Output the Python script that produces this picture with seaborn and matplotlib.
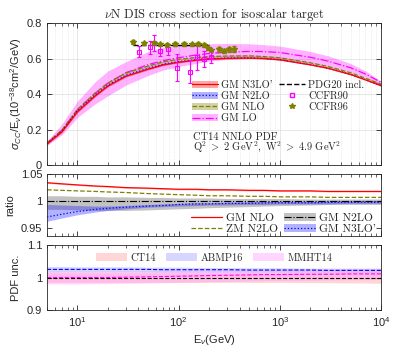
import numpy as np
import pandas as pd
import matplotlib
matplotlib.use('Agg')
import matplotlib.pyplot as plt
import seaborn as sns
from matplotlib.font_manager import FontProperties
from matplotlib.patches import Patch
from matplotlib.lines import Line2D
from matplotlib.ticker import FormatStrFormatter

# ---- data ----
energy = [5, 7, 10, 15, 20, 30, 50, 70, 100, 150, 200, 300, 500, 700, 1000, 2000, 3000, 5000, 7000, 10000]

gm_n3lo = [0.118, 0.186, 0.300, 0.390, 0.445, 0.500, 0.540, 0.564, 0.579, 0.591, 0.597, 0.601, 0.603, 0.600, 0.593, 0.565, 0.545, 0.510, 0.480, 0.447]
gm_n3lo_err = [0.004, 0.005, 0.006, 0.006, 0.006, 0.005, 0.004, 0.004, 0.004, 0.003, 0.003, 0.003, 0.003, 0.003, 0.003, 0.003, 0.003, 0.003, 0.003, 0.003]
gm_n2lo = [0.121, 0.190, 0.305, 0.395, 0.450, 0.505, 0.545, 0.568, 0.583, 0.594, 0.599, 0.603, 0.604, 0.601, 0.594, 0.566, 0.546, 0.511, 0.481, 0.448]
gm_n2lo_err = [0.002, 0.003, 0.004, 0.005, 0.005, 0.005, 0.005, 0.005, 0.004, 0.004, 0.004, 0.004, 0.003, 0.003, 0.003, 0.003, 0.003, 0.002, 0.002, 0.002]
gm_nlo = [0.125, 0.196, 0.314, 0.406, 0.462, 0.518, 0.558, 0.581, 0.596, 0.606, 0.611, 0.614, 0.615, 0.611, 0.604, 0.576, 0.555, 0.520, 0.489, 0.456]
gm_nlo_err = [0.003, 0.004, 0.004, 0.005, 0.005, 0.005, 0.005, 0.005, 0.005, 0.005, 0.005, 0.005, 0.005, 0.005, 0.005, 0.004, 0.004, 0.004, 0.004, 0.004]
gm_lo = [0.122, 0.195, 0.312, 0.405, 0.462, 0.520, 0.566, 0.588, 0.605, 0.620, 0.628, 0.636, 0.640, 0.639, 0.634, 0.607, 0.585, 0.548, 0.513, 0.466]
gm_lo_low = [0.110, 0.170, 0.268, 0.345, 0.390, 0.450, 0.505, 0.535, 0.555, 0.573, 0.585, 0.595, 0.600, 0.600, 0.597, 0.575, 0.557, 0.525, 0.495, 0.440]
gm_lo_high = [0.135, 0.230, 0.360, 0.470, 0.530, 0.582, 0.640, 0.662, 0.675, 0.681, 0.683, 0.685, 0.683, 0.678, 0.670, 0.640, 0.615, 0.572, 0.530, 0.472]

pdg_energy = [35, 200]
pdg_value = [0.677, 0.677]

ccfr90_energy = [40.5, 51.6, 57, 65.5, 79, 97, 128, 153, 178, 207]
ccfr90_value = [0.638, 0.663, 0.685, 0.642, 0.651, 0.548, 0.525, 0.606, 0.600, 0.610]
ccfr90_err = [0.030, 0.035, 0.045, 0.030, 0.030, 0.077, 0.065, 0.070, 0.045, 0.035]

ccfr96_energy = [35, 45, 57, 65, 77, 93, 113, 136, 156, 178, 195, 210, 250, 281, 315, 353]
ccfr96_value = [0.694, 0.685, 0.685, 0.681, 0.676, 0.680, 0.681, 0.680, 0.680, 0.676, 0.657, 0.648, 0.651, 0.643, 0.651, 0.653]
ccfr96_err = [0.012, 0.008, 0.010, 0.008, 0.012, 0.012, 0.010, 0.008, 0.012, 0.010, 0.010, 0.008, 0.012, 0.012, 0.015, 0.015]

# ratio panel (to GM N2LO)
ratio_gm_nlo = [1.033, 1.031, 1.029, 1.027, 1.026, 1.024, 1.023, 1.022, 1.021, 1.021, 1.020, 1.020, 1.019, 1.019, 1.018, 1.018, 1.017, 1.017, 1.017, 1.017]
ratio_zm_n2lo = [1.020, 1.019, 1.018, 1.017, 1.016, 1.015, 1.013, 1.012, 1.011, 1.010, 1.009, 1.009, 1.008, 1.008, 1.007, 1.007, 1.006, 1.006, 1.006, 1.006]
ratio_gm_n2lo = [1.0] * 20
ratio_gm_n2lo_low = [0.984, 0.984, 0.983, 0.982, 0.982, 0.982, 0.983, 0.984, 0.985, 0.986, 0.987, 0.988, 0.989, 0.990, 0.991, 0.992, 0.993, 0.993, 0.993, 0.993]
ratio_gm_n2lo_high = [1.009, 1.009, 1.008, 1.008, 1.007, 1.007, 1.006, 1.006, 1.005, 1.005, 1.005, 1.004, 1.004, 1.004, 1.004, 1.003, 1.003, 1.003, 1.003, 1.003]
ratio_gm_n3lo = [0.970, 0.975, 0.980, 0.984, 0.986, 0.988, 0.990, 0.991, 0.993, 0.994, 0.994, 0.995, 0.995, 0.996, 0.996, 0.996, 0.997, 0.997, 0.997, 0.997]
ratio_gm_n3lo_low = [0.962, 0.968, 0.974, 0.979, 0.982, 0.985, 0.988, 0.989, 0.990, 0.991, 0.992, 0.992, 0.993, 0.993, 0.994, 0.994, 0.994, 0.995, 0.995, 0.995]
ratio_gm_n3lo_high = [0.993, 0.992, 0.991, 0.990, 0.990, 0.991, 0.993, 0.994, 0.995, 0.996, 0.996, 0.997, 0.998, 0.998, 0.999, 0.999, 0.999, 1.000, 1.000, 1.000]

# PDF uncertainty panel
ct14_mid = [1.0] * 20
ct14_low = [0.985, 0.985, 0.985, 0.985, 0.985, 0.985, 0.985, 0.985, 0.985, 0.985, 0.985, 0.985, 0.985, 0.985, 0.985, 0.984, 0.984, 0.983, 0.983, 0.982]
ct14_high = [1.015, 1.015, 1.015, 1.015, 1.015, 1.015, 1.015, 1.015, 1.015, 1.015, 1.015, 1.015, 1.016, 1.016, 1.016, 1.017, 1.017, 1.018, 1.018, 1.019]
abmp16_mid = [1.025, 1.025, 1.025, 1.025, 1.025, 1.025, 1.025, 1.024, 1.024, 1.024, 1.024, 1.024, 1.023, 1.023, 1.023, 1.023, 1.022, 1.022, 1.022, 1.022]
abmp16_low = [1.017, 1.017, 1.017, 1.017, 1.017, 1.017, 1.017, 1.016, 1.016, 1.016, 1.016, 1.016, 1.016, 1.016, 1.016, 1.016, 1.016, 1.016, 1.016, 1.016]
abmp16_high = [1.034, 1.034, 1.033, 1.033, 1.033, 1.033, 1.032, 1.032, 1.032, 1.031, 1.031, 1.031, 1.030, 1.030, 1.030, 1.029, 1.029, 1.029, 1.029, 1.029]
mmht14_mid = [1.000, 1.000, 1.000, 1.000, 1.000, 1.001, 1.002, 1.003, 1.004, 1.005, 1.006, 1.007, 1.008, 1.009, 1.009, 1.010, 1.010, 1.011, 1.011, 1.011]
mmht14_low = [0.980, 0.980, 0.980, 0.981, 0.981, 0.982, 0.983, 0.984, 0.985, 0.986, 0.987, 0.988, 0.989, 0.990, 0.990, 0.991, 0.992, 0.993, 0.993, 0.994]
mmht14_high = [1.020, 1.020, 1.020, 1.020, 1.020, 1.021, 1.021, 1.022, 1.022, 1.023, 1.023, 1.024, 1.024, 1.025, 1.025, 1.026, 1.026, 1.027, 1.027, 1.027]

df = pd.DataFrame({'E': energy})

# ---- style ----
sns.set_style('ticks')
plt.rcParams['font.family'] = ['Liberation Sans', 'DejaVu Sans']
plt.rcParams['mathtext.fontset'] = 'custom'
plt.rcParams['mathtext.rm'] = 'Liberation Sans'
plt.rcParams['mathtext.it'] = 'Liberation Sans:italic'
plt.rcParams['xtick.direction'] = 'in'
plt.rcParams['ytick.direction'] = 'in'
plt.rcParams['xtick.top'] = True
plt.rcParams['ytick.right'] = True
plt.rcParams['xtick.minor.visible'] = True
plt.rcParams['axes.linewidth'] = 0.6
plt.rcParams['xtick.major.width'] = 0.6
plt.rcParams['ytick.major.width'] = 0.6
plt.rcParams['xtick.minor.width'] = 0.5
plt.rcParams['xtick.major.size'] = 3.5
plt.rcParams['xtick.minor.size'] = 2
plt.rcParams['ytick.major.size'] = 3.5
plt.rcParams['axes.edgecolor'] = '#262626'

serif = FontProperties(family=['cmr10', 'DejaVu Serif'], size=7.5, math_fontfamily='cm')
serif_mid = FontProperties(family=['cmr10', 'DejaVu Serif'], size=8.3, math_fontfamily='cm')
serif_title = FontProperties(family=['cmr10', 'DejaVu Serif'], size=9, math_fontfamily='cm')

red, blue, olive, mag = '#ff0000', '#0000ff', '#808000', '#ff00ff'

fig = plt.figure(figsize=(4.15, 3.63), dpi=100)
ax1 = fig.add_axes([0.1133, 0.5455, 0.805, 0.391])
ax2 = fig.add_axes([0.1133, 0.350, 0.805, 0.172])
ax3 = fig.add_axes([0.1133, 0.146, 0.805, 0.179])

# ---- top panel ----
ax1.fill_between(energy, gm_lo_low, gm_lo_high, color=mag, alpha=0.3, lw=0)
ax1.fill_between(energy, np.array(gm_nlo) - gm_nlo_err, np.array(gm_nlo) + gm_nlo_err, color=olive, alpha=0.35, lw=0)
ax1.fill_between(energy, np.array(gm_n2lo) - gm_n2lo_err, np.array(gm_n2lo) + gm_n2lo_err, color=blue, alpha=0.3, lw=0)
ax1.fill_between(energy, np.array(gm_n3lo) - gm_n3lo_err, np.array(gm_n3lo) + gm_n3lo_err, color=red, alpha=0.35, lw=0)
sns.lineplot(data=df.assign(y=gm_lo), x='E', y='y', ax=ax1, color=mag, lw=0.9, linestyle='-.')
sns.lineplot(data=df.assign(y=gm_nlo), x='E', y='y', ax=ax1, color=olive, lw=0.9, linestyle='--')
sns.lineplot(data=df.assign(y=gm_n2lo), x='E', y='y', ax=ax1, color=blue, lw=0.9, linestyle=':')
sns.lineplot(data=df.assign(y=gm_n3lo), x='E', y='y', ax=ax1, color=red, lw=0.9)
sns.lineplot(x=pdg_energy, y=pdg_value, ax=ax1, color='black', lw=1, linestyle='--')
ax1.errorbar(ccfr90_energy, ccfr90_value, yerr=ccfr90_err, fmt='s', color=mag, mfc='none',
             ms=3.5, mew=0.8, elinewidth=0.8, capsize=1.5)
ax1.errorbar(ccfr96_energy, ccfr96_value, yerr=ccfr96_err, fmt='*', color=olive, ms=4,
             elinewidth=0.8, capsize=1.5)

ax1.set_xscale('log')
ax1.set_xlim(5, 1e4)
ax1.set_ylim(0, 0.8)
ax1.set_yticks([0, 0.2, 0.4, 0.6, 0.8])
ax1.yaxis.set_major_formatter(FormatStrFormatter('%g'))
ax1.grid(True, which='major', color='#dddddd', lw=0.5)
ax1.grid(True, which='minor', axis='x', color='#dddddd', lw=0.5, ls=':')
ax1.set_axisbelow(True)
ax1.tick_params(labelbottom=False, labelsize=8)
ax1.set_xlabel('')
ax1.set_ylabel(r'$\sigma_{CC}$/E$_{\nu}$(10$^{-38}$cm$^2$/GeV)', fontsize=8, labelpad=2)
ax1.set_title(r'$\nu$N DIS cross section for isoscalar target', fontproperties=serif_title, pad=3)

h_top = [
    (Patch(color=red, alpha=0.35, lw=0), Line2D([], [], color=red, lw=0.9)),
    (Patch(color=blue, alpha=0.3, lw=0), Line2D([], [], color=blue, lw=0.9, ls=':')),
    (Patch(color=olive, alpha=0.35, lw=0), Line2D([], [], color=olive, lw=0.9, ls='--')),
    (Patch(color=mag, alpha=0.3, lw=0), Line2D([], [], color=mag, lw=0.9, ls='-.')),
    Line2D([], [], color='black', lw=1, ls='--'),
    Line2D([], [], color=mag, marker='s', mfc='none', ms=3.5, lw=0),
    Line2D([], [], color=olive, marker='*', ms=4, lw=0),
]
l_top = ["GM N3LO'", 'GM N2LO', 'GM NLO', 'GM LO', 'PDG20 incl.', 'CCFR90', 'CCFR96']
ax1.legend(h_top, l_top, ncol=2, loc='upper left', bbox_to_anchor=(0.428, 0.61), frameon=False,
           prop=serif, handlelength=2.5, handleheight=0.7, labelspacing=0.15, columnspacing=0.6,
           handletextpad=0.3, borderpad=0.2, borderaxespad=0)
ax1.text(0.437, 0.197, 'CT14 NNLO PDF', transform=ax1.transAxes, fontproperties=serif, va='center')
ax1.text(0.437, 0.12, r'$\mathrm{Q^2\ >\ 2\ GeV^2,\ W^2\ >\ 4.9\ GeV^2}$',
         transform=ax1.transAxes, fontproperties=serif, va='center')

# ---- ratio panel ----
ax2.fill_between(energy, ratio_gm_n2lo_low, ratio_gm_n2lo_high, color='#9a9a9a', alpha=0.6, lw=0)
ax2.fill_between(energy, ratio_gm_n3lo_low, ratio_gm_n3lo_high, color=blue, alpha=0.3, lw=0)
ax2.fill_between(energy, np.array(ratio_gm_nlo) - 0.0012, np.array(ratio_gm_nlo) + 0.0012, color=red, alpha=0.25, lw=0)
sns.lineplot(x=energy, y=ratio_gm_nlo, ax=ax2, color=red, lw=0.9)
sns.lineplot(x=energy, y=ratio_zm_n2lo, ax=ax2, color=olive, lw=0.9, linestyle='--')
sns.lineplot(x=energy, y=ratio_gm_n2lo, ax=ax2, color='black', lw=0.8, linestyle='-.')
sns.lineplot(x=energy, y=ratio_gm_n3lo, ax=ax2, color=blue, lw=0.9, linestyle=':')
ax2.set_xscale('log')
ax2.set_xlim(5, 1e4)
ax2.set_ylim(0.935, 1.05)
ax2.set_yticks([0.95, 1.0, 1.05])
ax2.yaxis.set_major_formatter(FormatStrFormatter('%g'))
ax2.tick_params(labelbottom=False, labelsize=8)
ax2.set_ylabel('ratio', fontsize=8, labelpad=4)
h_mid = [
    Line2D([], [], color=red, lw=0.9),
    Line2D([], [], color=olive, lw=0.9, ls='--'),
    (Patch(color='#9a9a9a', alpha=0.6, lw=0), Line2D([], [], color='black', lw=0.8, ls='-.')),
    (Patch(color=blue, alpha=0.3, lw=0), Line2D([], [], color=blue, lw=0.9, ls=':')),
]
l_mid = ['GM NLO', 'ZM N2LO', 'GM N2LO', "GM N3LO'"]
ax2.legend(h_mid, l_mid, ncol=2, loc='lower right', bbox_to_anchor=(0.99, 0.0), frameon=False,
           prop=serif_mid, handlelength=2.7, handleheight=0.7, labelspacing=0.1, columnspacing=0.6,
           handletextpad=0.3, borderpad=0.15, borderaxespad=0)

# ---- PDF uncertainty panel ----
ax3.fill_between(energy, ct14_low, ct14_high, color='#ff9999', alpha=0.4, lw=0)
ax3.fill_between(energy, abmp16_low, abmp16_high, color='#9999ff', alpha=0.4, lw=0)
ax3.fill_between(energy, mmht14_low, mmht14_high, color='#ff99ff', alpha=0.4, lw=0)
sns.lineplot(x=energy, y=ct14_mid, ax=ax3, color='black', lw=0.8, linestyle='--')
sns.lineplot(x=energy, y=abmp16_mid, ax=ax3, color=blue, lw=0.8, linestyle='--')
sns.lineplot(x=energy, y=mmht14_mid, ax=ax3, color=mag, lw=0.8, linestyle='--')
ax3.set_xscale('log')
ax3.set_xlim(5, 1e4)
ax3.set_ylim(0.9, 1.1)
ax3.set_yticks([0.9, 1.0, 1.1])
ax3.yaxis.set_major_formatter(FormatStrFormatter('%g'))
ax3.tick_params(labelsize=8)
ax3.set_ylabel('PDF unc.', fontsize=8, labelpad=4)
ax3.set_xlabel(r'E$_{\nu}$(GeV)', fontsize=8, labelpad=3)
h_bot = [Patch(color='#ff9999', alpha=0.4, lw=0), Patch(color='#9999ff', alpha=0.4, lw=0),
         Patch(color='#ff99ff', alpha=0.4, lw=0)]
ax3.legend(h_bot, ['CT14', 'ABMP16', 'MMHT14'], ncol=3, loc='upper center', bbox_to_anchor=(0.5, 1.02),
           frameon=False, prop=serif, handlelength=3.0, columnspacing=1.0, handletextpad=0.3)

fig.savefig('out.png', dpi=100)
